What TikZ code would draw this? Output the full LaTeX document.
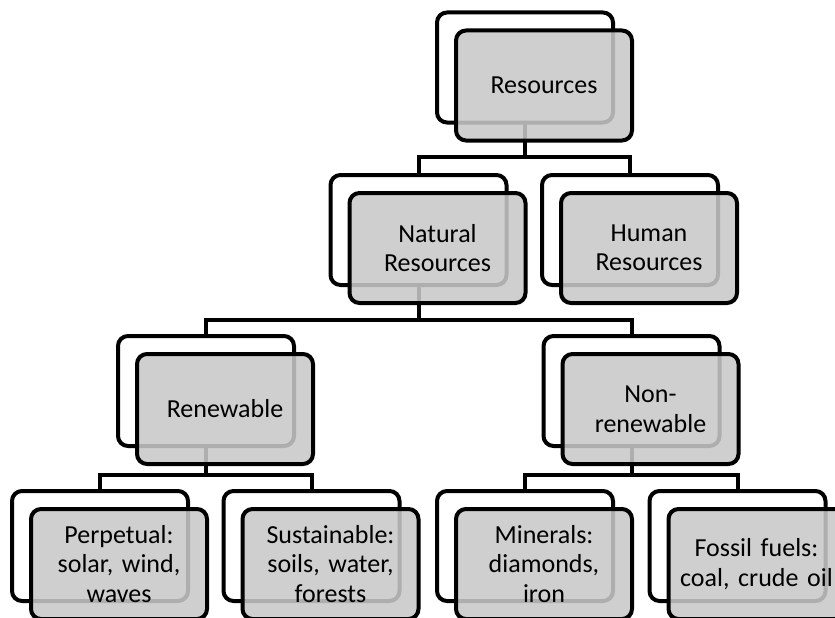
\documentclass[tikz,border=0pt]{standalone}
\usepackage{fontspec}
\setmainfont{Carlito}
\definecolor{boxgray}{RGB}{200,200,200}
\tikzset{
  x=1pt, y=-1pt,
  backbox/.style={draw=black, fill=white, line width=4pt, rounded corners=10pt,
    minimum width=176pt, minimum height=110pt, inner sep=0pt, outer sep=0pt},
  frontbox/.style={draw=black, fill=boxgray, fill opacity=0.87, text opacity=1, draw opacity=1,
    line width=4pt, rounded corners=10pt, minimum width=176pt, minimum height=110pt,
    inner sep=0pt, outer sep=0pt, align=center, text width=170pt,
    font=\fontsize{26}{29.5}\selectfont},
  conn/.style={draw=black, line width=4pt}
}
\begin{document}
\begin{tikzpicture}
\useasboundingbox (0,0) rectangle (835,618);
\clip (0,0) rectangle (835,618);
% back boxes
\node[backbox] (bRes) at (525,67.5) {};
\node[backbox] (bNat) at (418.5,230) {};
\node[backbox] (bHum) at (630,230) {};
\node[backbox] (bRen) at (206,391) {};
\node[backbox] (bNon) at (631.5,391) {};
\node[backbox] (bPer) at (100,546) {};
\node[backbox] (bSus) at (311.5,546) {};
\node[backbox] (bMin) at (525,546) {};
\node[backbox] (bFos) at (737.5,546) {};
% connectors
\coordinate (j1) at (525,157);
\coordinate (j2) at (418.5,320);
\coordinate (j3) at (206,475);
\coordinate (j4) at (631.5,475);
\draw[conn] (bRes.south) -- (j1);
\draw[conn] (bNat.north) |- (j1) -| (bHum.north);
\draw[conn] (bNat.south) -- (j2);
\draw[conn] (bRen.north) |- (j2) -| (bNon.north);
\draw[conn] (bRen.south) -- (j3);
\draw[conn] (bPer.north) |- (j3) -| (bSus.north);
\draw[conn] (bNon.south) -- (j4);
\draw[conn] (bMin.north) |- (j4) -| (bFos.north);
% front boxes
\node[frontbox] (fRes) at (544,85.5) {Resources};
\node[frontbox] (fNat) at (437.5,248) {Natural\\Resources};
\node[frontbox] (fHum) at (649,248) {Human\\Resources};
\node[frontbox] (fRen) at (225,409) {Renewable};
\node[frontbox] (fNon) at (650.5,409) {Non-\\renewable};
\node[frontbox] (fPer) at (119,564) {Perpetual:\\solar, wind,\\waves};
\node[frontbox] (fSus) at (330.5,564) {Sustainable:\\soils, water,\\forests};
\node[frontbox] (fMin) at (544,564) {Minerals:\\diamonds,\\iron};
\node[frontbox] (fFos) at (756.5,564) {Fossil fuels:\\coal, crude oil};
\end{tikzpicture}
\end{document}
